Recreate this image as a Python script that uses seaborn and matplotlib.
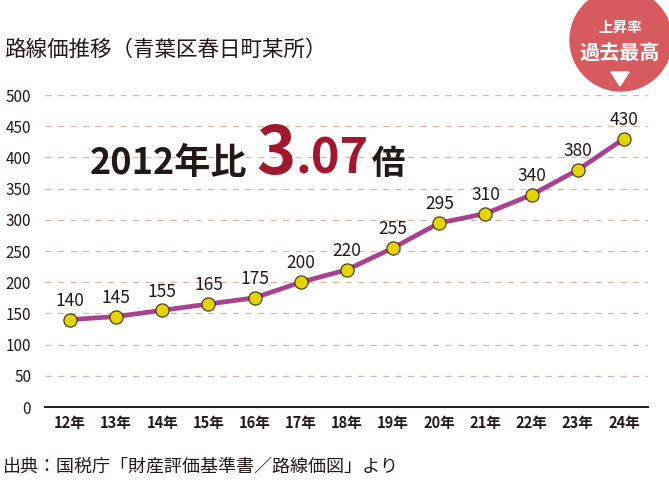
import matplotlib.pyplot as plt
import matplotlib.patches as mpatches
import seaborn as sns
import pandas as pd

years = ['12年', '13年', '14年', '15年', '16年', '17年', '18年', '19年', '20年', '21年', '22年', '23年', '24年']
prices = [140, 145, 155, 165, 175, 200, 220, 255, 295, 310, 340, 380, 430]
yticks = [0, 50, 100, 150, 200, 250, 300, 350, 400, 450, 500]

sns.set_style('white')
plt.rcParams['font.family'] = ['Noto Sans CJK JP', 'DejaVu Sans']

text_c = '#231815'
red_c = '#a0182d'
df = pd.DataFrame({'idx': range(len(years)), 'price': prices})

fig = plt.figure(figsize=(6.69, 4.99), dpi=100)
ax = fig.add_axes([45 / 669, 1 - 407 / 499, 603 / 669, 312 / 499])

for t in yticks[1:]:
    ax.axhline(t, color='#dfb49f', lw=0.9, ls=(0, (5, 5)), zorder=0)

sns.lineplot(x='idx', y='price', data=df, color='#a8418f', lw=3.4, ax=ax,
             marker='o', markersize=9.5, markerfacecolor='#e3d300',
             markeredgecolor='#3a2e10', markeredgewidth=0.8, zorder=3)

for i, v in enumerate(prices):
    ax.annotate(str(v), (i, v), xytext=(0, 7), textcoords='offset points',
                ha='center', va='bottom', fontsize=12.5, color=text_c)

ax.set_xlim(-0.54, 12.52)
ax.set_ylim(0, 500)
ax.set_yticks(yticks)
ax.set_yticklabels([str(t) for t in yticks], fontsize=11, color=text_c)
ax.set_xticks(range(len(years)))
ax.set_xticklabels(years, fontsize=10.5, color=text_c, fontweight='bold')
ax.tick_params(axis='both', length=0, pad=6)
ax.tick_params(axis='y', pad=10)
ax.set_xlabel('')
ax.set_ylabel('')
for s in ['top', 'right', 'left']:
    ax.spines[s].set_visible(False)
ax.spines['bottom'].set_color(text_c)
ax.spines['bottom'].set_linewidth(1.4)

# titles
fig.text(4 / 669, 1 - 50 / 499, '路線価推移（青葉区春日町某所）', fontsize=15.5,
         color=text_c, va='center', ha='left')
fig.text(3 / 669, 1 - 466 / 499, '出典：国税庁「財産評価基準書／路線価図」より', fontsize=13,
         color=text_c, va='center', ha='left')

# highlight text, pieces placed one after another
renderer = fig.canvas.get_renderer()
ybase = 1 - 174 / 499
x = 90
pieces = [('2012年比', 26, text_c, 9), ('3', 48, red_c, 0), ('.07', 35, red_c, 3), ('倍', 24, text_c, 0)]
for s, size, col, gap in pieces:
    t = fig.text(x / 669, ybase, s, fontsize=size, fontweight='bold', color=col,
                 va='baseline', ha='left')
    bb = t.get_window_extent(renderer)
    x = bb.x1 + gap

# badge
r = 51
badge = mpatches.Ellipse((621 / 669, 1 - 40 / 499), 2 * r / 669, 2 * r / 499,
                         transform=fig.transFigure, color='#d65a5e', zorder=0)
fig.patches.append(badge)
fig.text(620 / 669, 1 - 27 / 499, '上昇率', fontsize=10.5, fontweight='bold', color='white',
         ha='center', va='center')
fig.text(620 / 669, 1 - 52 / 499, '過去最高', fontsize=14.5, fontweight='bold', color='white',
         ha='center', va='center')
tri = mpatches.Polygon([(611 / 669, 1 - 72 / 499), (629 / 669, 1 - 72 / 499), (620 / 669, 1 - 86 / 499)],
                       closed=True, transform=fig.transFigure, color='white')
fig.patches.append(tri)

fig.savefig('out.png', dpi=100)
